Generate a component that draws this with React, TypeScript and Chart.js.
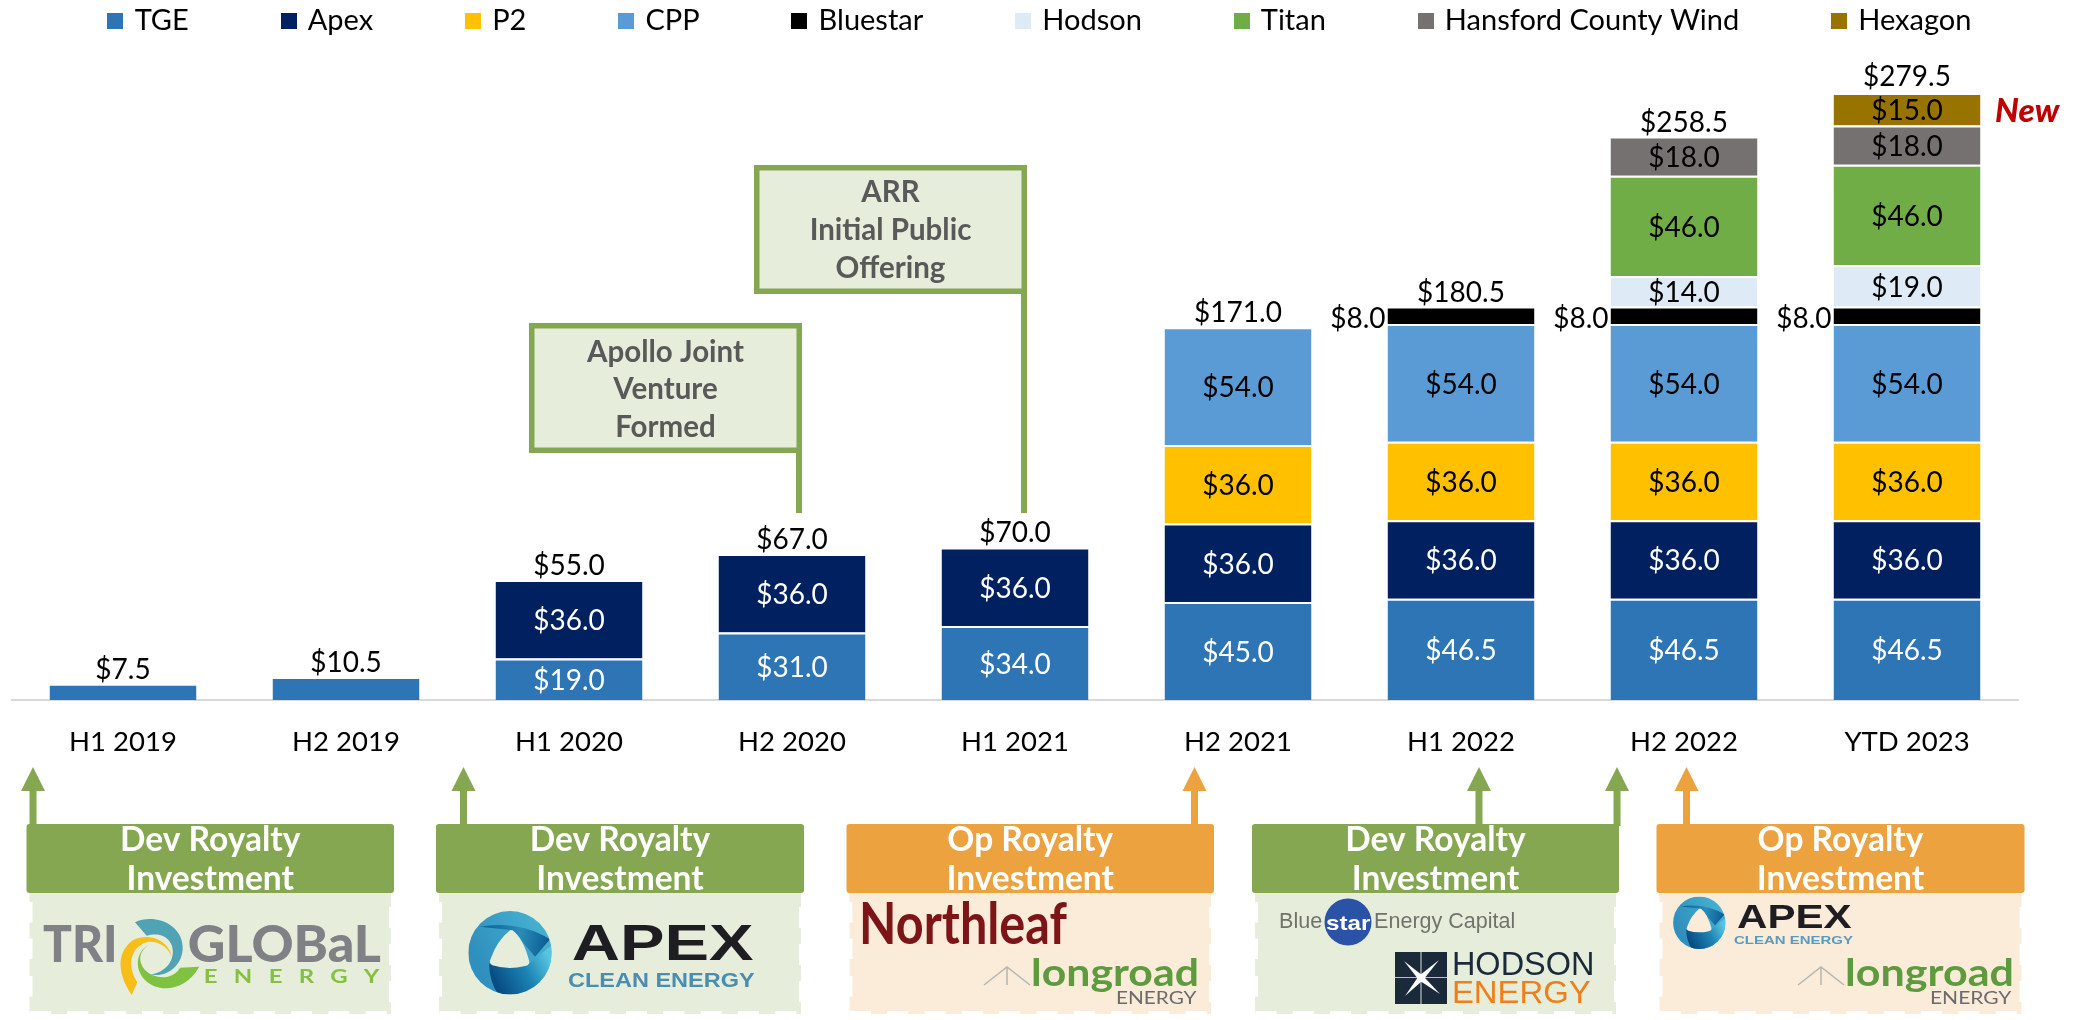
import React, { useEffect, useRef } from "react";
import { Chart, registerables } from "chart.js";

Chart.register(...registerables);

const categories = ["H1 2019", "H2 2019", "H1 2020", "H2 2020", "H1 2021", "H2 2021", "H1 2022", "H2 2022", "YTD 2023"];
const tge = [7.5, 10.5, 19, 31, 34, 45, 46.5, 46.5, 46.5];
const apex = [null, null, 36, 36, 36, 36, 36, 36, 36];
const p2 = [null, null, null, null, null, 36, 36, 36, 36];
const cpp = [null, null, null, null, null, 54, 54, 54, 54];
const bluestar = [null, null, null, null, null, null, 8, 8, 8];
const hodson = [null, null, null, null, null, null, null, 14, 19];
const titan = [null, null, null, null, null, null, null, 46, 46];
const hansford = [null, null, null, null, null, null, null, 18, 18];
const hexagon = [null, null, null, null, null, null, null, null, 15];
const totals = [7.5, 10.5, 55, 67, 70, 171, 180.5, 258.5, 279.5];

const FONT = "Lato";
const SANS = '"Liberation Sans"';
const GREEN = "#85A752";
const ORANGE = "#EBA23F";
const GREEN_FILL = "#E6EDDB";
const ORANGE_FILL = "#FBEBD9";

const seriesDefs = [
  { label: "TGE", data: tge, color: "#2E75B6", text: "#FFFFFF" },
  { label: "Apex", data: apex, color: "#002060", text: "#FFFFFF" },
  { label: "P2", data: p2, color: "#FFC000", text: "#000000" },
  { label: "CPP", data: cpp, color: "#5B9BD5", text: "#000000" },
  { label: "Bluestar", data: bluestar, color: "#000000", text: "#000000" },
  { label: "Hodson", data: hodson, color: "#DEEAF6", text: "#000000" },
  { label: "Titan", data: titan, color: "#70AD47", text: "#000000" },
  { label: "Hansford County Wind", data: hansford, color: "#767171", text: "#000000" },
  { label: "Hexagon", data: hexagon, color: "#997300", text: "#000000" },
];

const money = (v: number) => "$" + v.toFixed(1);

function swatch(color: string) {
  const c = document.createElement("canvas");
  c.width = 16;
  c.height = 16;
  const x = c.getContext("2d")!;
  x.fillStyle = color;
  x.fillRect(0, 0, 16, 16);
  return c;
}

// Draws a text so that its ink fills the box x0..x1, y0..y1
function boxText(ctx: CanvasRenderingContext2D, text: string, x0: number, x1: number, y0: number, y1: number, font: string, color: string) {
  ctx.save();
  ctx.font = font;
  ctx.fillStyle = color;
  ctx.textAlign = "left";
  ctx.textBaseline = "alphabetic";
  const m = ctx.measureText(text);
  const w = m.actualBoundingBoxLeft + m.actualBoundingBoxRight;
  const h = m.actualBoundingBoxAscent + m.actualBoundingBoxDescent;
  ctx.translate(x0, y0);
  ctx.scale((x1 - x0) / w, (y1 - y0) / h);
  ctx.fillText(text, m.actualBoundingBoxLeft, m.actualBoundingBoxAscent);
  ctx.restore();
}

function centered(ctx: CanvasRenderingContext2D, text: string, cx: number, cy: number, font: string, color: string) {
  ctx.font = font;
  ctx.fillStyle = color;
  ctx.textAlign = "center";
  ctx.textBaseline = "middle";
  ctx.fillText(text, cx, cy);
}

function callout(ctx: CanvasRenderingContext2D, x0: number, y0: number, x1: number, y1: number, lineX: number, lineEnd: number, lines: string[], ys: number[]) {
  ctx.fillStyle = GREEN_FILL;
  ctx.fillRect(x0, y0, x1 - x0, y1 - y0);
  ctx.strokeStyle = GREEN;
  ctx.lineWidth = 5.5;
  ctx.strokeRect(x0 + 2.75, y0 + 2.75, x1 - x0 - 5.5, y1 - y0 - 5.5);
  ctx.fillStyle = GREEN;
  ctx.fillRect(lineX - 3, y1 - 2, 6, lineEnd - y1 + 2);
  lines.forEach((t, i) => centered(ctx, t, (x0 + x1) / 2, ys[i], `bold 29.5px ${FONT}`, "#595959"));
}

function arrow(ctx: CanvasRenderingContext2D, x: number, color: string) {
  ctx.fillStyle = color;
  ctx.fillRect(x - 3.5, 788, 7, 38);
  ctx.beginPath();
  ctx.moveTo(x, 767);
  ctx.lineTo(x + 12, 791);
  ctx.lineTo(x - 12, 791);
  ctx.closePath();
  ctx.fill();
}

function panel(ctx: CanvasRenderingContext2D, x0: number, x1: number, title: string, color: string, fill: string) {
  ctx.fillStyle = fill;
  ctx.fillRect(x0 + 3, 892, x1 - x0 - 6, 122);
  ctx.fillStyle = color;
  ctx.beginPath();
  ctx.roundRect(x0, 824, x1 - x0, 69, 3);
  ctx.fill();
  centered(ctx, title, (x0 + x1) / 2, 840, `bold 33.5px ${FONT}`, "#FFFFFF");
  centered(ctx, "Investment", (x0 + x1) / 2, 879, `bold 33.5px ${FONT}`, "#FFFFFF");
  ctx.fillRect(x0 + 1, 902, 5, 20.5);
  ctx.fillRect(x0 + 1, 938.5, 5, 20.5);
  ctx.fillRect(x0 + 1, 976, 5, 20.5);
  ctx.fillRect(x1 - 5, 907, 5, 21);
  ctx.fillRect(x1 - 5, 944, 5, 21);
  ctx.fillRect(x1 - 5, 981, 5, 21);
  for (let x = x0 + 3.5; x < x1 - 15; x += 37.3) ctx.fillRect(x, 1011, 21, 5);
}

function triGlobal(ctx: CanvasRenderingContext2D) {
  const G = "#808187";
  boxText(ctx, "TRI", 43, 115, 925, 962, `900 40px ${FONT}`, G);
  boxText(ctx, "GLOBaL", 189, 381, 925, 962, `900 40px ${FONT}`, G);
  ctx.save();
  ctx.letterSpacing = "13px";
  boxText(ctx, "ENERGY", 205, 380, 969, 983, `bold 19px ${FONT}`, "#86C040");
  ctx.restore();
  ctx.save();
  ctx.translate(30, 895);
  ctx.scale(1 / 3, 1 / 3);
  ctx.fillStyle = "#4FA3B4";
  ctx.beginPath();
  ctx.moveTo(315, 82);
  ctx.bezierCurveTo(370, 55, 455, 85, 458, 155);
  ctx.bezierCurveTo(460, 210, 410, 250, 360, 238);
  ctx.bezierCurveTo(405, 235, 440, 195, 425, 150);
  ctx.bezierCurveTo(410, 115, 375, 115, 350, 122);
  ctx.closePath();
  ctx.fill();
  ctx.fillStyle = "#F7BE17";
  ctx.beginPath();
  ctx.moveTo(425, 187);
  ctx.bezierCurveTo(420, 140, 360, 110, 310, 135);
  ctx.bezierCurveTo(265, 165, 255, 225, 305, 300);
  ctx.lineTo(322, 262);
  ctx.bezierCurveTo(295, 220, 295, 170, 340, 145);
  ctx.bezierCurveTo(370, 130, 415, 150, 425, 187);
  ctx.closePath();
  ctx.fill();
  ctx.fillStyle = "#7FC241";
  ctx.beginPath();
  ctx.moveTo(360, 148);
  ctx.bezierCurveTo(320, 165, 310, 220, 345, 255);
  ctx.bezierCurveTo(385, 295, 465, 290, 508, 215);
  ctx.lineTo(450, 218);
  ctx.bezierCurveTo(425, 260, 370, 250, 345, 225);
  ctx.bezierCurveTo(320, 195, 330, 165, 360, 148);
  ctx.closePath();
  ctx.fill();
  ctx.restore();
}

function apexRing(ctx: CanvasRenderingContext2D, cx: number, cy: number, r: number, fill: string) {
  ctx.save();
  ctx.translate(cx, cy);
  ctx.scale(r, r);
  ctx.beginPath();
  ctx.arc(0, 0, 1, 0, Math.PI * 2);
  ctx.clip();
  const base = ctx.createLinearGradient(-1, -0.2, 0.5, -0.9);
  base.addColorStop(0, "#2F8FBE");
  base.addColorStop(1, "#44AECF");
  ctx.fillStyle = base;
  ctx.fillRect(-1, -1, 2, 2);
  // upper band
  const top = ctx.createLinearGradient(-0.8, -0.5, 0.9, -0.2);
  top.addColorStop(0, "#0A5A92");
  top.addColorStop(0.6, "#2A8CB8");
  top.addColorStop(1, "#0A5F96");
  ctx.fillStyle = top;
  ctx.beginPath();
  ctx.moveTo(-0.72, -0.62);
  ctx.quadraticCurveTo(0.2, -0.78, 0.96, -0.32);
  ctx.lineTo(0.6, 0.1);
  ctx.lineTo(0.06, -0.54);
  ctx.lineTo(-0.72, -0.62);
  ctx.fill();
  // lower band
  const low = ctx.createLinearGradient(-0.3, 0.8, 0.95, 0.15);
  low.addColorStop(0, "#084C84");
  low.addColorStop(0.55, "#1C84B4");
  low.addColorStop(1, "#58C5E0");
  ctx.fillStyle = low;
  ctx.beginPath();
  ctx.moveTo(-0.5, 0.26);
  ctx.lineTo(0.46, 0.26);
  ctx.lineTo(1, -0.18);
  ctx.lineTo(1, 1);
  ctx.lineTo(-0.28, 1);
  ctx.quadraticCurveTo(-0.5, 0.7, -0.5, 0.26);
  ctx.fill();
  ctx.fillStyle = fill;
  ctx.beginPath();
  ctx.moveTo(0.06, -0.54);
  ctx.quadraticCurveTo(0.32, -0.35, 0.46, 0.2);
  ctx.quadraticCurveTo(0.48, 0.3, 0.36, 0.32);
  ctx.quadraticCurveTo(-0.05, 0.42, -0.42, 0.3);
  ctx.quadraticCurveTo(-0.52, 0.26, -0.46, 0.14);
  ctx.quadraticCurveTo(-0.32, -0.28, 0.0, -0.54);
  ctx.closePath();
  ctx.fill();
  ctx.restore();
}

function longroad(ctx: CanvasRenderingContext2D, mx0: number, mx1: number, tx0: number, tx1: number, ex0: number, ex1: number) {
  boxText(ctx, "longroad", tx0, tx1, 957, 993, `bold 44px ${FONT}`, "#5E9A3E");
  boxText(ctx, "ENERGY", ex0, ex1, 992, 1004, `400 20px ${FONT}`, "#6B6B6B");
  const mid = (mx0 + mx1) / 2;
  ctx.strokeStyle = "#B5B7B2";
  ctx.lineWidth = 1.5;
  ctx.beginPath();
  ctx.moveTo(mx0, 985);
  ctx.lineTo(mid, 967);
  ctx.lineTo(mx1, 985);
  ctx.moveTo(mid, 967);
  ctx.lineTo(mid, 985);
  ctx.stroke();
}

function bluestarLogo(ctx: CanvasRenderingContext2D) {
  const gray = "#6F736C";
  boxText(ctx, "Blue", 1280, 1322, 912, 928, `300 24px ${SANS}`, gray);
  ctx.fillStyle = "#2A52A6";
  ctx.beginPath();
  ctx.arc(1348, 922, 23.5, 0, Math.PI * 2);
  ctx.fill();
  boxText(ctx, "star", 1326, 1370, 916, 930, `bold 24px ${SANS}`, "#FFFFFF");
  boxText(ctx, "Energy Capital", 1375, 1514, 912, 933, `300 24px ${SANS}`, gray);
}

function hodsonLogo(ctx: CanvasRenderingContext2D) {
  const x = 1395, y = 952, w = 52, h = 52;
  ctx.fillStyle = "#1B2A3A";
  ctx.fillRect(x, y, w, h);
  ctx.strokeStyle = "#B8C2B8";
  ctx.lineWidth = 1.2;
  ctx.beginPath();
  ctx.moveTo(x + w / 2, y);
  ctx.lineTo(x + w / 2, y + h);
  ctx.moveTo(x, y + h / 2 - 0.5);
  ctx.lineTo(x + w, y + h / 2 - 0.5);
  ctx.stroke();
  const cx = x + w / 2, cy = y + h / 2;
  ctx.fillStyle = "#FFFFFF";
  ctx.beginPath();
  ctx.arc(cx, cy, 4, 0, Math.PI * 2);
  ctx.fill();
  const arms = [[-17, -17], [18, -18], [-16, 18], [19, 16]];
  arms.forEach(([a, b]) => {
    const n = Math.hypot(a, b);
    const px = (-b / n) * 3, py = (a / n) * 3;
    ctx.beginPath();
    ctx.moveTo(cx + px, cy + py);
    ctx.lineTo(cx + a, cy + b);
    ctx.lineTo(cx - px, cy - py);
    ctx.closePath();
    ctx.fill();
  });
  boxText(ctx, "HODSON", 1454, 1592, 952, 975, `400 31px ${SANS}`, "#1B2A3A");
  boxText(ctx, "ENERGY", 1454, 1590, 981, 1003, `400 31px ${SANS}`, "#EF7F1A");
}

const annotations = {
  id: "annotations",
  afterDraw(chart: any) {
    const ctx: CanvasRenderingContext2D = chart.ctx;
    ctx.save();
    callout(ctx, 529, 323, 802, 453, 799, 513, ["Apollo Joint", "Venture", "Formed"], [352, 389, 427]);
    callout(ctx, 754, 165, 1027, 294, 1024, 513, ["ARR", "Initial Public", "Offering"], [192, 230, 268]);
    boxText(ctx, "New", 1996, 2060, 98, 122, `italic 900 34px ${FONT}`, "#C00000");

    arrow(ctx, 33, GREEN);
    arrow(ctx, 463.5, GREEN);
    arrow(ctx, 1194.5, ORANGE);
    arrow(ctx, 1479, GREEN);
    arrow(ctx, 1617, GREEN);
    arrow(ctx, 1686.5, ORANGE);

    panel(ctx, 26.5, 394, "Dev Royalty", GREEN, GREEN_FILL);
    panel(ctx, 436, 804, "Dev Royalty", GREEN, GREEN_FILL);
    panel(ctx, 846.5, 1214, "Op Royalty", ORANGE, ORANGE_FILL);
    panel(ctx, 1252, 1619, "Dev Royalty", GREEN, GREEN_FILL);
    panel(ctx, 1656.5, 2024.5, "Op Royalty", ORANGE, ORANGE_FILL);

    triGlobal(ctx);
    apexRing(ctx, 510, 952.7, 41.7, GREEN_FILL);
    boxText(ctx, "APEX", 573, 753, 925, 960, `bold 50px ${SANS}`, "#1D1D22");
    boxText(ctx, "CLEAN ENERGY", 568, 755, 973, 987, `bold 19px ${SANS}`, "#4A8DB0");
    boxText(ctx, "Northleaf", 863, 1067, 902, 944, `bold 50px ${FONT}`, "#7D1418");
    longroad(ctx, 984, 1030, 1033, 1197, 1117, 1197);
    bluestarLogo(ctx);
    hodsonLogo(ctx);
    apexRing(ctx, 1699.3, 922.8, 26.2, ORANGE_FILL);
    boxText(ctx, "APEX", 1737, 1852, 905, 928, `bold 31px ${SANS}`, "#1D1D22");
    boxText(ctx, "CLEAN ENERGY", 1734, 1853, 936, 944, `bold 12px ${SANS}`, "#5A9ABD");
    longroad(ctx, 1798, 1844, 1847, 2012, 1931, 2012);
    ctx.restore();
  },
};

const barLabels = {
  id: "barLabels",
  afterDatasetsDraw(chart: any) {
    const ctx: CanvasRenderingContext2D = chart.ctx;
    const font = `400 28px ${FONT}`;
    ctx.save();
    seriesDefs.forEach((s, di) => {
      const meta = chart.getDatasetMeta(di);
      meta.data.forEach((el: any, i: number) => {
        const v = s.data[i];
        if (v == null || totals[i] === v) return;
        const cy = (el.y + el.base) / 2 + 2;
        if (s.label === "Bluestar") {
          ctx.font = font;
          ctx.fillStyle = s.text;
          ctx.textAlign = "right";
          ctx.textBaseline = "middle";
          ctx.fillText(money(v), el.x - el.width / 2 - 2, cy + 2);
        } else {
          centered(ctx, money(v), el.x, cy, font, s.text);
        }
      });
    });
    const first = chart.getDatasetMeta(0).data;
    totals.forEach((t, i) => {
      centered(ctx, money(t), first[i].x, chart.scales.y.getPixelForValue(t) - 14, font, "#000000");
    });
    ctx.restore();
  },
};

const legendLayout = {
  id: "legendLayout",
  beforeLayout(chart: any) {
    const l = chart.legend;
    if (!l.__patched) {
      const orig = l.fit;
      l.fit = function () {
        this.maxWidth = 2600;
        orig.call(this);
        this.height = 58;
      };
      l.__patched = true;
    }
  },
  afterLayout(chart: any) {
    const l = chart.legend;
    l.left = 0;
    l.right = 2082;
    l.top = 6 - 95;
  },
};

export default function App() {
  const ref = useRef<HTMLCanvasElement | null>(null);
  useEffect(() => {
    document.body.style.margin = "0";
    const chart = new Chart(ref.current!, {
      type: "bar",
      data: {
        labels: categories,
        datasets: seriesDefs.map((s) => ({
          label: s.label,
          data: s.data,
          backgroundColor: s.color,
          borderColor: "#FFFFFF",
          borderWidth: { top: 2, left: 0, right: 0, bottom: 0 },
          borderSkipped: false,
          categoryPercentage: 1,
          barPercentage: 0.659,
        })),
      } as any,
      plugins: [legendLayout, barLabels, annotations],
      options: {
        responsive: false,
        animation: false,
        layout: { padding: { left: 11.5, right: 63.5, top: 0, bottom: 235 } },
        plugins: {
          tooltip: { enabled: false },
          title: { display: false },
          legend: {
            position: "top",
            labels: {
              usePointStyle: true,
              pointStyleWidth: 9.5,
              boxHeight: 16,
              padding: 95,
              color: "#000000",
              font: { family: FONT, size: 29 },
              generateLabels: (c: any) =>
                (Chart.defaults.plugins.legend.labels as any)
                  .generateLabels(c)
                  .map((l: any, i: number) => ({ ...l, pointStyle: swatch(seriesDefs[i].color) })),
            },
          },
        },
        scales: {
          x: {
            stacked: true,
            grid: { display: false, drawTicks: false },
            border: { color: "#D9D9D9", width: 2 },
            ticks: { color: "#000000", padding: 26, font: { family: FONT, size: 27.5 }, maxRotation: 0 },
          },
          y: { stacked: true, display: false, min: 0, max: 294.5 },
        },
      } as any,
    });
    return () => chart.destroy();
  }, []);
  return <canvas ref={ref} width={2082} height={1020} style={{ position: "absolute", left: 0, top: 0, display: "block" }} />;
}
